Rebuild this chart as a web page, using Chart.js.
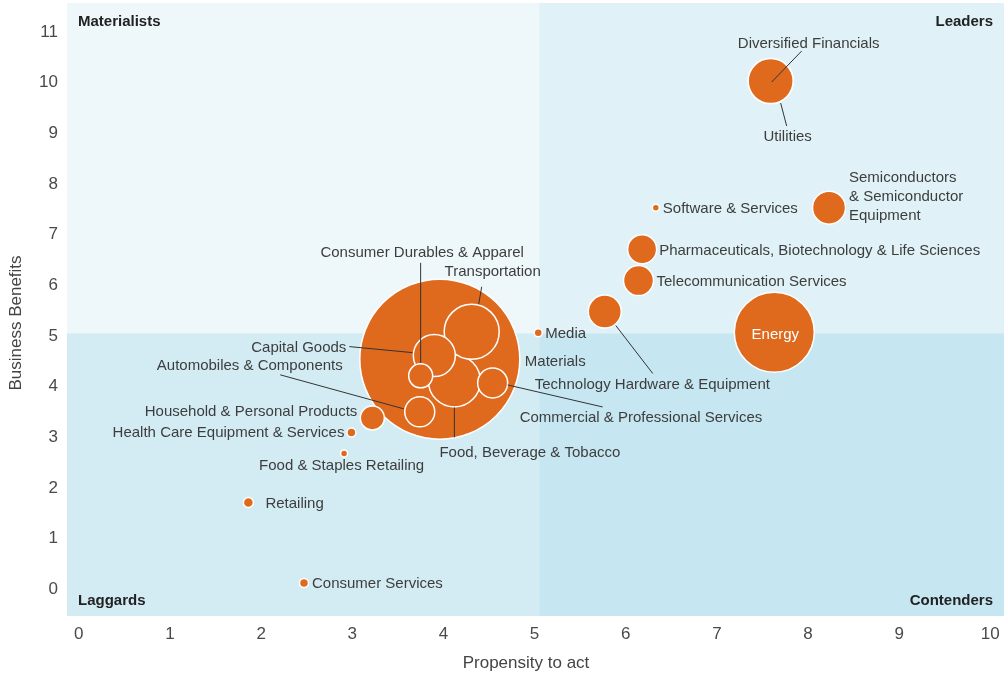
<!DOCTYPE html>
<html lang="en">
<head>
<meta charset="UTF-8">
<title>Propensity to act vs Business Benefits</title>
<script src="https://cdn.jsdelivr.net/npm/chart.js"></script>
<style>
  body { margin: 0; background: #fff; }
  .chart-box { width: 1007px; height: 674px; }
</style>
</head>
<body>
<div class="chart-box"><canvas id="bubbleChart" width="1007" height="674"></canvas></div>
<script>
// drawing order matters: the big bubble first, the ones inside it after
const sectors = [
  'Materials', 'Food, Beverage & Tobacco', 'Transportation', 'Capital Goods',
  'Consumer Durables & Apparel', 'Commercial & Professional Services',
  'Automobiles & Components', 'Household & Personal Products',
  'Health Care Equipment & Services', 'Food & Staples Retailing', 'Retailing',
  'Consumer Services', 'Media', 'Technology Hardware & Equipment',
  'Telecommunication Services', 'Pharmaceuticals, Biotechnology & Life Sciences',
  'Software & Services', 'Semiconductors & Semiconductor Equipment', 'Energy',
  'Diversified Financials', 'Utilities'
];
const propensity = [3.96, 4.12, 4.31, 3.90, 3.75, 4.54, 3.74, 3.22, 2.99, 2.91, 1.86,
                    2.47, 5.04, 5.77, 6.14, 6.18, 6.33, 8.23, 7.63, 7.59, 7.59];
const benefits = [4.54, 4.11, 5.08, 4.61, 4.21, 4.07, 3.50, 3.38, 3.09, 2.68, 1.71,
                  0.12, 5.06, 5.48, 6.09, 6.71, 7.53, 7.53, 5.07, 10.03, 10.03];
const bubbleSizes = [80, 26, 27.5, 21, 12, 15, 15, 12, 4.5, 3.5, 5,
                     4.5, 4, 16.5, 15, 14.5, 3.5, 16.5, 40, 22.5, 22.5];

const xTicks = [0, 1, 2, 3, 4, 5, 6, 7, 8, 9, 10];
const yTicks = [0, 1, 2, 3, 4, 5, 6, 7, 8, 9, 10, 11];
const quadrantNames = ['Materialists', 'Leaders', 'Laggards', 'Contenders'];
const xSplit = 5.05;
const ySplit = 5.05;

const orange = '#df6a1e';
const textColor = '#3d3d3d';
const font = '"Liberation Sans", Arial, sans-serif';

// label placement in pixels, relative to the bubble centre
const labelSpecs = [
  { at: 'Diversified Financials', lines: ['Diversified Financials'], dx: 38, dy: -39, align: 'center', leader: [1, 1, 31, -30] },
  { at: 'Utilities', lines: ['Utilities'], dx: 17, dy: 54, align: 'center', leader: [10, 22, 16, 45] },
  { at: 'Semiconductors & Semiconductor Equipment', lines: ['Semiconductors', '& Semiconductor', 'Equipment'], dx: 20, dy: -31, align: 'left' },
  { at: 'Software & Services', lines: ['Software & Services'], dx: 7, dy: 0, align: 'left' },
  { at: 'Pharmaceuticals, Biotechnology & Life Sciences', lines: ['Pharmaceuticals, Biotechnology & Life Sciences'], dx: 17, dy: 0, align: 'left' },
  { at: 'Telecommunication Services', lines: ['Telecommunication Services'], dx: 18, dy: 0, align: 'left' },
  { at: 'Technology Hardware & Equipment', lines: ['Technology Hardware & Equipment'], dx: -70, dy: 72, align: 'left', leader: [11, 14, 48, 62] },
  { at: 'Energy', lines: ['Energy'], dx: 1, dy: 1, align: 'center', color: '#fff' },
  { at: 'Media', lines: ['Media'], dx: 7, dy: 0, align: 'left' },
  { at: 'Materials', lines: ['Materials'], dx: 85, dy: 1, align: 'left' },
  { at: 'Consumer Durables & Apparel', lines: ['Consumer Durables & Apparel'], dx: 1.5, dy: -125, align: 'center', leader: [0, -113, 0, -13] },
  { at: 'Transportation', lines: ['Transportation'], dx: 21, dy: -61, align: 'center', leader: [7, -27.5, 10, -45] },
  { at: 'Capital Goods', lines: ['Capital Goods'], dx: -88, dy: -9, align: 'right', leader: [-85, -9, -22, -3] },
  { at: 'Automobiles & Components', lines: ['Automobiles & Components'], dx: -77, dy: -47, align: 'right', leader: [-139.5, -37, -16, -3] },
  { at: 'Food, Beverage & Tobacco', lines: ['Food, Beverage & Tobacco'], dx: -15, dy: 70, align: 'left', leader: [0, 26.5, 0, 56.5] },
  { at: 'Commercial & Professional Services', lines: ['Commercial & Professional Services'], dx: 27, dy: 33, align: 'left', leader: [15, 2, 110, 24] },
  { at: 'Household & Personal Products', lines: ['Household & Personal Products'], dx: -15, dy: -7.5, align: 'right' },
  { at: 'Health Care Equipment & Services', lines: ['Health Care Equipment & Services'], dx: -7, dy: -1, align: 'right' },
  { at: 'Food & Staples Retailing', lines: ['Food & Staples Retailing'], dx: -85, dy: 11, align: 'left' },
  { at: 'Retailing', lines: ['Retailing'], dx: 17, dy: 0, align: 'left' },
  { at: 'Consumer Services', lines: ['Consumer Services'], dx: 8, dy: -1, align: 'left' }
];

const bubbleData = sectors.map((s, i) => ({ x: propensity[i], y: benefits[i], r: bubbleSizes[i] }));

const quadrantPlugin = {
  id: 'quadrants',
  beforeDatasetsDraw(chart) {
    const { ctx, chartArea: a, scales: { x, y } } = chart;
    const mx = x.getPixelForValue(xSplit);
    const my = y.getPixelForValue(ySplit);
    ctx.save();
    ctx.fillStyle = '#eef8fb'; ctx.fillRect(a.left, a.top, mx - a.left, my - a.top);
    ctx.fillStyle = '#e0f2f7'; ctx.fillRect(mx, a.top, a.right - mx, my - a.top);
    ctx.fillStyle = '#d3ecf3'; ctx.fillRect(a.left, my, mx - a.left, a.bottom - my);
    ctx.fillStyle = '#c6e7f1'; ctx.fillRect(mx, my, a.right - mx, a.bottom - my);
    ctx.restore();
  },
  afterDatasetsDraw(chart) {
    const { ctx, chartArea: a, scales: { x, y } } = chart;
    ctx.save();

    // quadrant names
    ctx.font = 'bold 15px ' + font;
    ctx.fillStyle = '#222';
    ctx.textBaseline = 'middle';
    ctx.textAlign = 'left';
    ctx.fillText(quadrantNames[0], a.left + 11, a.top + 18.5);
    ctx.fillText(quadrantNames[2], a.left + 11, a.bottom - 15);
    ctx.textAlign = 'right';
    ctx.fillText(quadrantNames[1], a.right - 11, a.top + 18.5);
    ctx.fillText(quadrantNames[3], a.right - 11, a.bottom - 15);

    // sector labels and leader lines
    ctx.font = '15px ' + font;
    labelSpecs.forEach(spec => {
      const i = sectors.indexOf(spec.at);
      const cx = x.getPixelForValue(propensity[i]);
      const cy = y.getPixelForValue(benefits[i]);
      if (spec.leader) {
        const l = spec.leader;
        ctx.strokeStyle = '#333';
        ctx.lineWidth = 1;
        ctx.beginPath();
        ctx.moveTo(cx + l[0], cy + l[1]);
        ctx.lineTo(cx + l[2], cy + l[3]);
        ctx.stroke();
      }
      ctx.fillStyle = spec.color || textColor;
      ctx.textAlign = spec.align;
      spec.lines.forEach((line, k) => {
        ctx.fillText(line, cx + spec.dx, cy + spec.dy + 1.5 + k * 19);
      });
    });

    // axis titles
    ctx.font = '17px ' + font;
    ctx.fillStyle = '#444';
    ctx.textAlign = 'center';
    ctx.fillText('Propensity to act', a.left + 459, 663);
    ctx.translate(16, a.top + 320);
    ctx.rotate(-Math.PI / 2);
    ctx.fillText('Business Benefits', 0, 0);
    ctx.restore();
  }
};

new Chart(document.getElementById('bubbleChart'), {
  type: 'bubble',
  data: {
    datasets: [{
      label: 'Sectors',
      data: bubbleData,
      backgroundColor: orange,
      borderColor: '#fff',
      borderWidth: 1.5,
      hoverRadius: 0,
      hoverBorderWidth: 1.5
    }]
  },
  options: {
    responsive: false,
    animation: false,
    devicePixelRatio: 1,
    layout: { autoPadding: false, padding: { top: 3, right: 3, left: 0, bottom: 0 } },
    plugins: { legend: { display: false }, tooltip: { enabled: false } },
    scales: {
      x: {
        type: 'linear',
        min: -0.13,
        max: 10.15,
        afterBuildTicks: scale => { scale.ticks = xTicks.map(v => ({ value: v })); },
        afterFit: scale => {
          scale.height = 58;
          scale.paddingLeft = 0;
          scale.paddingRight = 0;
        },
        grid: { display: false, drawTicks: false },
        border: { display: false },
        ticks: { padding: 8, color: '#4a4a4a', font: { family: font, size: 17 } }
      },
      y: {
        type: 'linear',
        min: -0.53,
        max: 11.57,
        afterBuildTicks: scale => { scale.ticks = yTicks.map(v => ({ value: v })); },
        afterFit: scale => {
          scale.width = 67;
          scale.paddingTop = 0;
          scale.paddingBottom = 0;
        },
        grid: { display: false, drawTicks: false },
        border: { display: false },
        ticks: { padding: 9, color: '#4a4a4a', font: { family: font, size: 17 } }
      }
    }
  },
  plugins: [quadrantPlugin]
});
</script>
</body>
</html>
